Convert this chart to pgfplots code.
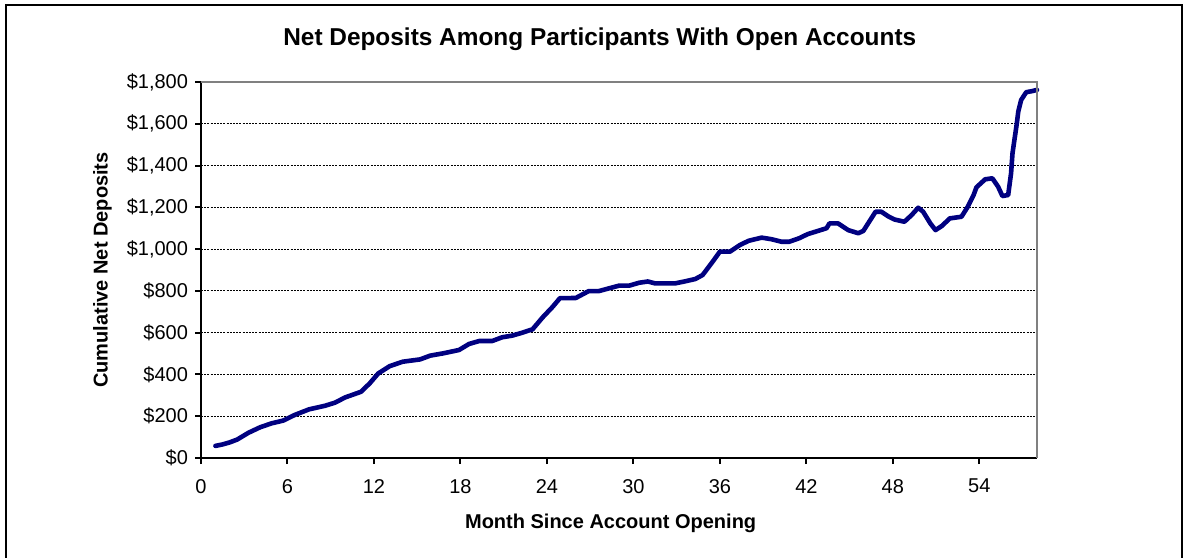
\documentclass[border=0pt]{standalone}
\usepackage{pgfplots}
\pgfplotsset{compat=1.18}
\usepackage{fontspec}
\setmainfont{Liberation Sans}
\definecolor{navyline}{RGB}{0,0,128}
\definecolor{frame}{RGB}{128,128,128}

\begin{document}
\begin{tikzpicture}
\useasboundingbox (0,0) rectangle (594pt,278.5pt);
\draw[line width=1pt] (3pt,-10pt) -- (3pt,276pt) -- (591pt,276pt) -- (591pt,-10pt);
\begin{axis}[
  at={(100.5pt,49.5pt)}, anchor=south west,
  scale only axis, width=418pt, height=188pt,
  xmin=0, xmax=58, ymin=0, ymax=1800,
  axis x line*=bottom, axis y line*=left,
  axis line style={line width=1pt, black},
  xtick={0,6,...,54},
  ytick={0,200,...,1800},
  yticklabels={\$0,\$200,\$400,\$600,\$800,\$1{,}000,\$1{,}200,\$1{,}400,\$1{,}600,\$1{,}800},
  tick align=outside, major tick length=3pt,
  tick style={line width=1pt, black},
  /pgf/number format/assume math mode=true,
  ticklabel style={font=\fontsize{10}{12}\selectfont},
  xticklabel style={yshift=-4pt},
  ymajorgrids, grid style={black, dash pattern=on 1pt off 0.6pt, line width=0.5pt},
  every axis title shift=0pt,
  title={\textbf{Net Deposits Among Participants With Open Accounts}},
  title style={at={(axis description cs:0.477,1.114)}, anchor=center, font=\fontsize{12.2}{14}\selectfont},
  xlabel={\textbf{Month Since Account Opening}},
  xlabel style={at={(axis description cs:0.49,-0.173)}, anchor=center, font=\fontsize{10}{12}\selectfont},
  ylabel={\textbf{Cumulative Net Deposits}},
  ylabel style={at={(axis description cs:-0.118,0.5)}, anchor=center, font=\fontsize{10}{12}\selectfont},
  clip=false,
]
\addplot[navyline, line width=2.3pt, line join=round, line cap=round] coordinates {
(1.0,58) (1.5,65) (2.0,75) (2.5,88) (3.3,121) (4.1,147) (4.9,166) (5.7,179)
(6.5,206) (7.5,233) (8.6,250) (9.3,265) (10.0,290) (11.1,317) (11.7,357) (12.3,405)
(13.1,440) (14.0,461) (15.2,472) (15.9,490) (16.8,501) (17.9,517) (18.6,546) (19.3,560)
(20.2,560) (20.9,578) (21.6,586) (22.3,600) (23.0,616) (23.7,673) (24.4,724) (24.9,765)
(26.0,766) (26.9,799) (27.6,799) (28.3,812) (29.0,825) (29.7,825) (30.4,839) (31.0,845)
(31.5,836) (32.9,836) (33.6,846) (34.3,857) (34.8,876) (35.5,940) (36.0,988) (36.7,988)
(37.4,1020) (38.0,1040) (38.9,1055) (39.6,1047) (40.3,1035) (40.8,1035) (41.5,1052) (42.1,1072)
(42.8,1087) (43.4,1100) (43.6,1123) (44.2,1123) (44.9,1091) (45.6,1076) (45.95,1087) (46.8,1179)
(47.2,1179) (47.7,1156) (48.1,1142) (48.8,1131) (49.3,1163) (49.76,1198) (50.1,1179) (50.6,1123)
(50.96,1091) (51.4,1111) (51.95,1147) (52.76,1155) (53.2,1203) (53.6,1259) (53.8,1296) (54.4,1334)
(54.9,1339) (55.3,1299) (55.6,1254) (56.0,1259) (56.2,1363) (56.3,1459) (56.6,1602) (56.7,1658)
(56.9,1714) (57.25,1751) (57.7,1757) (58.0,1762)
};
\draw[frame, line width=1pt] (rel axis cs:0,1) -- (rel axis cs:1,1) -- (rel axis cs:1,0);
\end{axis}
\end{tikzpicture}
\end{document}
